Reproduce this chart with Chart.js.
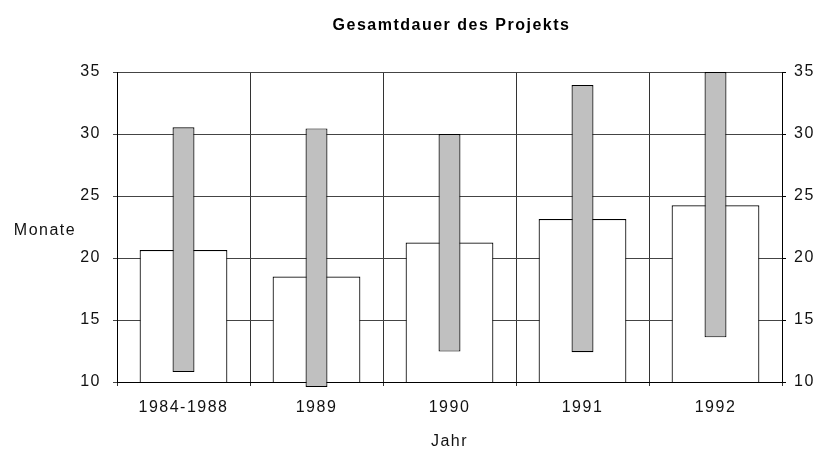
<!DOCTYPE html>
<html>
<head>
<meta charset="utf-8">
<script src="https://cdn.jsdelivr.net/npm/chart.js@4"></script>
<style>
    body { margin: 0; background: #fff; }
    #wrap { width: 821px; height: 451px; }
</style>
</head>
<body>
<div id="wrap"><canvas id="chartDauer"></canvas></div>
<script>
// Jahre
const labels = ['1984-1988', '1989', '1990', '1991', '1992']
// weisse Balken (Monate)
const gesamtDauer = [20.65, 18.5, 21.25, 23.15, 24.25]
// graue Spannen: von / bis
const spanneVon = [10.8, 9.6, 12.45, 12.4, 13.6]
const spanneBis = [30.55, 30.45, 30.0, 33.95, 35.0]
const yTicks = [10, 15, 20, 25, 30, 35]

const schrift = '"Liberation Sans", Arial, sans-serif'

const textPlugin = {
    id: 'texte',
    beforeDraw(chart) {
        chart.ctx.letterSpacing = '1.5px'
    },
    afterDraw(chart) {
        const ctx = chart.ctx
        const area = chart.chartArea
        ctx.save()
        ctx.fillStyle = '#000'
        ctx.textBaseline = 'middle'
        ctx.textAlign = 'center'
        ctx.font = 'bold 16px ' + schrift
        ctx.fillText('Gesamtdauer des Projekts', (area.left + area.right) / 2 + 2, 26)
        ctx.font = '16px ' + schrift
        ctx.fillStyle = '#111'
        ctx.fillText('Monate', 45, 231)
        ctx.restore()
    }
}

new Chart(document.getElementById('chartDauer'), {
    type: 'bar',
    data: {
        labels: labels,
        datasets: [{
            label: 'Spanne',
            data: spanneVon.map((v, i) => [v, spanneBis[i]]),
            backgroundColor: '#c0c0c0',
            borderColor: '#000',
            borderWidth: 1.2,
            borderSkipped: false,
            barPercentage: 0.165,
            categoryPercentage: 1,
            grouped: false,
            clip: false
        }, {
            label: 'Gesamtdauer',
            data: gesamtDauer,
            backgroundColor: '#fff',
            borderColor: '#000',
            borderWidth: 1.2,
            borderSkipped: false,
            barPercentage: 0.66,
            categoryPercentage: 1,
            grouped: false
        }]
    },
    options: {
        responsive: true,
        maintainAspectRatio: false,
        animation: false,
        events: [],
        layout: { padding: { top: 72, left: 0, right: 0, bottom: 0 } },
        plugins: {
            legend: { display: false },
            tooltip: { enabled: false }
        },
        scales: {
            x: {
                grid: { color: '#333', tickLength: 4, offset: true },
                border: { color: '#000' },
                ticks: {
                    color: '#111',
                    font: { size: 16, family: schrift },
                    padding: 12,
                    autoSkip: false,
                    maxRotation: 0
                },
                title: {
                    display: true,
                    text: 'Jahr',
                    color: '#111',
                    font: { size: 16, family: schrift },
                    padding: { top: 0, bottom: 0 }
                },
                afterFit(scale) { scale.height = 69 }
            },
            y: {
                min: 10,
                max: 35,
                afterBuildTicks(scale) { scale.ticks = yTicks.map(v => ({ value: v })) },
                grid: { color: '#444', tickLength: 4 },
                border: { color: '#000' },
                ticks: {
                    color: '#111',
                    font: { size: 16, family: schrift },
                    padding: 12
                },
                afterFit(scale) { scale.width = 117 }
            },
            y2: {
                position: 'right',
                min: 10,
                max: 35,
                afterBuildTicks(scale) { scale.ticks = yTicks.map(v => ({ value: v })) },
                grid: { drawOnChartArea: false, color: '#000', tickLength: 4 },
                border: { color: '#000' },
                ticks: {
                    color: '#111',
                    font: { size: 16, family: schrift },
                    padding: 8
                },
                afterFit(scale) { scale.width = 39 }
            }
        }
    },
    plugins: [textPlugin]
})
</script>
</body>
</html>
